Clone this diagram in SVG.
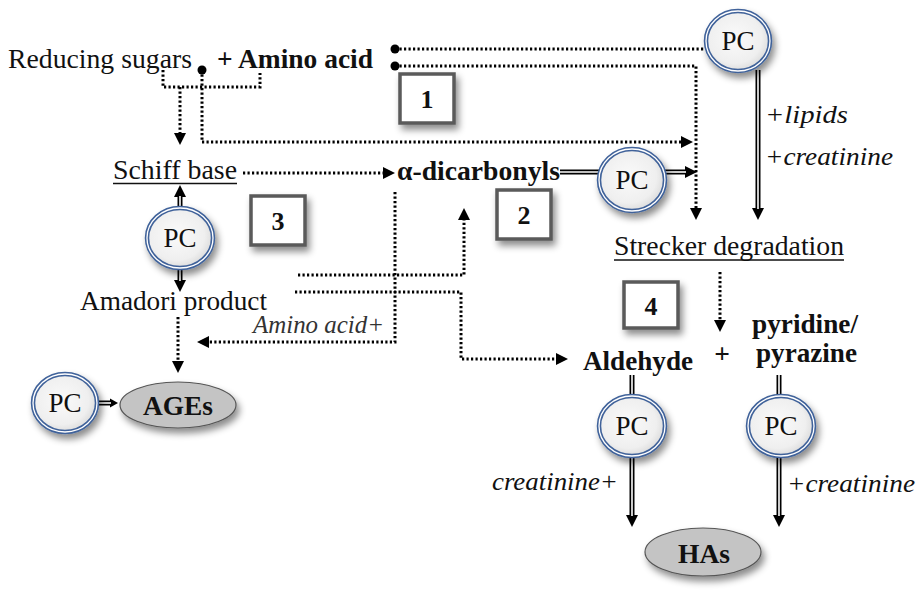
<svg xmlns="http://www.w3.org/2000/svg" width="917" height="590" viewBox="0 0 917 590" font-family="Liberation Serif, Times New Roman, serif">
<style>
text{font-family:"Liberation Serif","Times New Roman",Times,serif;fill:#111}
.t{font-size:27.5px}
.b{font-size:27.5px;font-weight:bold}
.i{font-size:25px;font-style:italic}
.pc{font-size:27px}
.n{font-size:26px;font-weight:bold}
.dot{fill:none;stroke:#000;stroke-width:3;stroke-dasharray:2.2 2.3}
.dk{fill:none;stroke:#000;stroke-width:5}
.dw{fill:none;stroke:#fff;stroke-width:1.6}
.ring{fill:url(#g);stroke:#3f629a;stroke-width:4.5}
.ringw{fill:none;stroke:#fff;stroke-width:1.3}
.box{fill:#fff;stroke:#5a5a5a;stroke-width:3.5}
.ell{fill:#c4c4c4;stroke:#555;stroke-width:1.2}
.ul{stroke:#111;stroke-width:1.5}
</style>
<defs>
<radialGradient id="g" cx="0.45" cy="0.45" r="0.6">
<stop offset="0" stop-color="#fafafa"/>
<stop offset="0.7" stop-color="#efefef"/>
<stop offset="1" stop-color="#d6d6d6"/>
</radialGradient>
<filter id="sh" x="-30%" y="-30%" width="170%" height="170%">
<feDropShadow dx="3" dy="5" stdDeviation="3.5" flood-color="#000" flood-opacity="0.45"/>
</filter>
<marker id="ah" markerUnits="userSpaceOnUse" markerWidth="14" markerHeight="12" refX="0" refY="6" orient="auto" overflow="visible">
<path d="M0,0 L12,6 L0,12 z" fill="#000"/>
</marker>
<marker id="as" markerUnits="userSpaceOnUse" markerWidth="10" markerHeight="10" refX="0" refY="5" orient="auto" overflow="visible">
<path d="M0,0.5 L8,5 L0,9.5 z" fill="#000"/>
</marker>
</defs>
<rect width="917" height="590" fill="#fff"/>

<g id="connectors">
<path class="dot" d="M395,49 H705"/>
<path class="dot" d="M395,66 H696 V208" marker-end="url(#ah)"/>
<path class="dot" d="M163,70 V87 H260 V73"/>
<path class="dot" d="M180,87 V133" marker-end="url(#ah)"/>
<path class="dot" d="M202,70 V142 H681" marker-end="url(#ah)"/>
<path class="dot" d="M243,173 H383" marker-end="url(#ah)"/>
<path class="dot" d="M395,192 V342 H209" marker-end="url(#ah)"/>
<path class="dot" d="M298,275 H464 V220" marker-end="url(#ah)"/>
<path class="dot" d="M295,292 H461 V359 H556" marker-end="url(#ah)"/>
<path class="dot" d="M178,317 V361" marker-end="url(#ah)"/>
<path class="dot" d="M720,272 V320" marker-end="url(#ah)"/>
<circle cx="395" cy="49" r="4.5" fill="#000"/>
<circle cx="395" cy="66" r="4.5" fill="#000"/>
<circle cx="202" cy="70" r="4.5" fill="#000"/>
<path class="dk" d="M560,172 H600"/><path class="dw" d="M560,172 H600"/>
<path class="dk" d="M665,172 H685" marker-end="url(#ah)"/><path class="dw" d="M665,172 H686"/>
<path class="dk" d="M758,70 V208" marker-end="url(#ah)"/><path class="dw" d="M758,70 V209"/>
<path class="dk" d="M180,210 V197" marker-end="url(#ah)"/><path class="dw" d="M180,210 V196"/>
<path class="dk" d="M180,266 V280" marker-end="url(#ah)"/><path class="dw" d="M180,266 V281"/>
<path class="dk" d="M96,403 H110" marker-end="url(#as)"/><path class="dw" d="M96,403 H111"/>
<path class="dk" d="M632,375 V398"/><path class="dw" d="M632,375 V398"/>
<path class="dk" d="M632,454 V515" marker-end="url(#ah)"/><path class="dw" d="M632,454 V516"/>
<path class="dk" d="M779,375 V398"/><path class="dw" d="M779,375 V398"/>
<path class="dk" d="M779,454 V515" marker-end="url(#ah)"/><path class="dw" d="M779,454 V516"/>
</g>

<g id="reducing-sugars"><text class="t" x="8" y="68" textLength="184" lengthAdjust="spacingAndGlyphs">Reducing sugars</text></g>
<g id="amino-acid"><text class="b" x="217" y="68" textLength="156" lengthAdjust="spacingAndGlyphs">+ Amino acid</text></g>
<g id="schiff-base"><text class="t" x="113" y="179" textLength="124" lengthAdjust="spacingAndGlyphs">Schiff base</text><line class="ul" x1="113" y1="183.5" x2="237" y2="183.5"/></g>
<g id="dicarbonyls"><text class="b" x="397" y="180" textLength="163" lengthAdjust="spacingAndGlyphs">α-dicarbonyls</text></g>
<g id="strecker"><text class="t" x="614" y="255" textLength="230" lengthAdjust="spacingAndGlyphs">Strecker degradation</text><line class="ul" x1="614" y1="260" x2="844" y2="260"/></g>
<g id="amadori"><text class="t" x="80" y="310" textLength="187" lengthAdjust="spacingAndGlyphs">Amadori product</text></g>
<g id="amino-acid-label"><text class="i" x="253" y="333" textLength="131" lengthAdjust="spacingAndGlyphs" style="fill:#333">Amino acid+</text></g>
<g id="lipids-label"><text class="i" x="765" y="123" textLength="83" lengthAdjust="spacingAndGlyphs">+lipids</text>
<text class="i" x="765" y="165" textLength="128" lengthAdjust="spacingAndGlyphs">+creatinine</text></g>
<g id="aldehyde"><text class="b" x="583" y="370" textLength="110" lengthAdjust="spacingAndGlyphs">Aldehyde</text></g>
<g id="plus"><text class="b" x="722" y="363" text-anchor="middle">+</text></g>
<g id="pyridine"><text class="b" x="752" y="333" textLength="106" lengthAdjust="spacingAndGlyphs">pyridine/</text><text class="b" x="756" y="362" textLength="101" lengthAdjust="spacingAndGlyphs">pyrazine</text></g>
<g id="creatinine-left"><text class="i" x="492" y="490" textLength="126" lengthAdjust="spacingAndGlyphs">creatinine+</text></g>
<g id="creatinine-right"><text class="i" x="787" y="492" textLength="128" lengthAdjust="spacingAndGlyphs">+creatinine</text></g>

<g id="box1"><rect class="box" x="400" y="74" width="54" height="49" filter="url(#sh)"/><text class="n" x="427" y="108" text-anchor="middle">1</text></g>
<g id="box2"><rect class="box" x="497" y="190" width="54" height="49" filter="url(#sh)"/><text class="n" x="524" y="224" text-anchor="middle">2</text></g>
<g id="box3"><rect class="box" x="251" y="196" width="54" height="49" filter="url(#sh)"/><text class="n" x="278" y="230" text-anchor="middle">3</text></g>
<g id="box4"><rect class="box" x="624" y="282" width="54" height="46" filter="url(#sh)"/><text class="n" x="651" y="315" text-anchor="middle">4</text></g>

<g id="pc-top"><ellipse class="ring" cx="738" cy="41" rx="32" ry="30" filter="url(#sh)"/><ellipse class="ringw" cx="738" cy="41" rx="32" ry="30"/><text class="pc" x="738" y="50" text-anchor="middle">PC</text></g>
<g id="pc-mid"><ellipse class="ring" cx="632" cy="180" rx="33" ry="31" filter="url(#sh)"/><ellipse class="ringw" cx="632" cy="180" rx="33" ry="31"/><text class="pc" x="632" y="189" text-anchor="middle">PC</text></g>
<g id="pc-left"><ellipse class="ring" cx="180" cy="238" rx="33" ry="30" filter="url(#sh)"/><ellipse class="ringw" cx="180" cy="238" rx="33" ry="30"/><text class="pc" x="180" y="247" text-anchor="middle">PC</text></g>
<g id="pc-ages"><ellipse class="ring" cx="65" cy="403" rx="32" ry="29" filter="url(#sh)"/><ellipse class="ringw" cx="65" cy="403" rx="32" ry="29"/><text class="pc" x="65" y="412" text-anchor="middle">PC</text></g>
<g id="pc-aldehyde"><ellipse class="ring" cx="632" cy="426" rx="33" ry="30" filter="url(#sh)"/><ellipse class="ringw" cx="632" cy="426" rx="33" ry="30"/><text class="pc" x="632" y="435" text-anchor="middle">PC</text></g>
<g id="pc-pyridine"><ellipse class="ring" cx="781" cy="426" rx="33" ry="30" filter="url(#sh)"/><ellipse class="ringw" cx="781" cy="426" rx="33" ry="30"/><text class="pc" x="781" y="435" text-anchor="middle">PC</text></g>

<g id="ages"><ellipse class="ell" cx="178" cy="405" rx="58" ry="23" filter="url(#sh)"/><text class="b" x="178" y="415" text-anchor="middle" textLength="70" lengthAdjust="spacingAndGlyphs">AGEs</text></g>
<g id="has"><ellipse class="ell" cx="703" cy="552" rx="58" ry="24" filter="url(#sh)"/><text class="b" x="704" y="563" text-anchor="middle" textLength="52" lengthAdjust="spacingAndGlyphs">HAs</text></g>
</svg>
